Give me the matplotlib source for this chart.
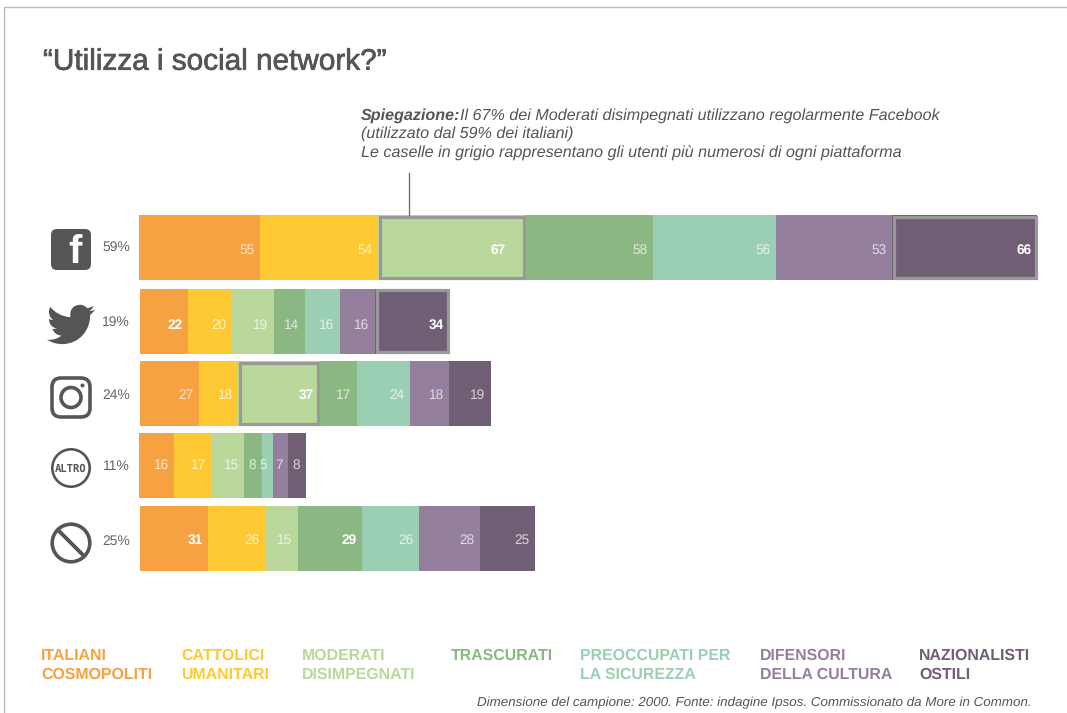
import matplotlib
matplotlib.use("Agg")
import matplotlib.pyplot as plt
import matplotlib.patheffects as pe
from matplotlib.path import Path
from matplotlib.patches import PathPatch, FancyBboxPatch, Circle

plt.rcParams['font.family'] = ['Liberation Sans', 'DejaVu Sans']
plt.rcParams['text.hinting'] = 'no_hinting'
plt.rcParams['text.hinting_factor'] = 8

segments = ["ITALIANI\nCOSMOPOLITI", "CATTOLICI\nUMANITARI", "MODERATI\nDISIMPEGNATI", "TRASCURATI",
            "PREOCCUPATI PER\nLA SICUREZZA", "DIFENSORI\nDELLA CULTURA", "NAZIONALISTI\nOSTILI"]
colors = ["#F7A242", "#FFC933", "#BBD89C", "#8BB882", "#9BCFB3", "#94809E", "#705F74"]
legend_x = [41, 181, 302, 451, 580, 760, 919]

platforms = ["Facebook", "Twitter", "Instagram", "Altro", "Nessuno"]
totals = ["59%", "19%", "24%", "11%", "25%"]
facebook = [55, 54, 67, 58, 56, 53, 66]
twitter = [22, 20, 19, 14, 16, 16, 34]
instagram = [27, 18, 37, 17, 24, 18, 19]
altro = [16, 17, 15, 8, 5, 7, 8]
nessuno = [31, 26, 15, 29, 26, 28, 25]
rows = [facebook, twitter, instagram, altro, nessuno]
bold_cells = {(0, 2), (0, 6), (1, 0), (1, 6), (2, 2), (4, 0), (4, 3)}
boxed_cells = {(0, 2), (0, 6), (1, 6), (2, 2)}

W, H = 1067, 713
fig = plt.figure(figsize=(W / 100, H / 100), dpi=100, facecolor="white")

ov = fig.add_axes([0, 0, 1, 1], zorder=3)
ov.set_xlim(0, W)
ov.set_ylim(H, 0)
ov.axis("off")
ov.patch.set_alpha(0)

# chart axes: x in values (1 unit = 2.196 px), y in pixel rows
PX = 2.196
ax = fig.add_axes([0, 0, 1, 1], zorder=2)
ax.set_xlim(-139 / PX, (W - 139) / PX)
ax.set_ylim(H, 0)
ax.axis("off")
ax.patch.set_alpha(0)

row_y = [247.5, 321, 393.5, 465.5, 538]
row_dx = [0, 1, 0.5, 0, 1]
label_y = [250, 325, 395.5, 465.5, 540.5]
pct_y = [247.5, 322, 395, 466, 541]
bar_h = 65
for i, row in enumerate(rows):
    left = row_dx[i] / PX
    for j, v in enumerate(row):
        ax.barh(row_y[i], v, left=left, height=bar_h, color=colors[j], edgecolor="none", zorder=2)
        if (i, j) in boxed_cells:
            ix, iy = 1.6 / PX, 1.6
            ax.barh(row_y[i], v - 2 * ix, left=left + ix, height=bar_h - 2 * iy, facecolor="none",
                    edgecolor="#999999", linewidth=2.3, zorder=3)
        bold = (i, j) in bold_cells
        pad = 20 if (i, j) == (0, 2) else 5.5
        ax.text(left + v - pad / PX, label_y[i], str(v), ha="right", va="center", fontsize=9.8,
                color="white", alpha=1 if bold else 0.72, fontweight="bold" if bold else "normal", zorder=4)
        left += v
    ov.text(130, pct_y[i], totals[i], ha="right", va="center", fontsize=10, color="#666666")

ov.plot([4, 4, W], [H, 7, 7], color="#BBBBBB", lw=1.0, solid_capstyle="butt")

ov.text(43, 62, "\u201cUtilizza i social network?\u201d", fontsize=21.4, color="#555555", va="center", ha="left",
        path_effects=[pe.withStroke(linewidth=0.5, foreground="#555555")])

note_y = [115.5, 134, 153]
NOTE = 11.6
ov.text(361, note_y[0], "Spiegazione:", fontsize=NOTE, color="#555555", style="italic", fontweight="bold", va="center")
ov.text(460, note_y[0], "Il 67% dei Moderati disimpegnati utilizzano regolarmente Facebook",
        fontsize=NOTE, color="#555555", style="italic", va="center")
ov.text(361, note_y[1], "(utilizzato dal 59% dei italiani)", fontsize=NOTE, color="#555555", style="italic", va="center")
ov.text(361, note_y[2], "Le caselle in grigio rappresentano gli utenti più numerosi di ogni piattaforma",
        fontsize=NOTE, color="#555555", style="italic", va="center")
ov.plot([409, 409], [173, 215], color="#666666", lw=0.9)

for name, c, x in zip(segments, colors, legend_x):
    for k, line in enumerate(name.split("\n")):
        ov.text(x, 655.5 + 19 * k, line, fontsize=11.4, fontweight="bold", color=c, va="center", ha="left")

ov.text(1032, 702.5, "Dimensione del campione: 2000. Fonte: indagine Ipsos. Commissionato da More in Common.",
        fontsize=9.6, style="italic", color="#555555", ha="right", va="center")

ic = "#555555"
ov.add_patch(FancyBboxPatch((51, 229), 40, 41, boxstyle="round,pad=0,rounding_size=6", lw=0, fc=ic))
ov.text(75.5, 253, "f", fontsize=29, fontweight="bold", color="white", ha="center", va="center")

bird = [
    (Path.MOVETO, (23.95, 4.57)), (Path.CURVE3, (22.6, 5.2)), (Path.CURVE3, (21.13, 5.35)),
    (Path.CURVE3, (22.7, 4.4)), (Path.CURVE3, (23.29, 2.62)), (Path.CURVE3, (21.8, 3.5)), (Path.CURVE3, (20.16, 3.81)),
    (Path.CURVE3, (17.5, 1.0)), (Path.CURVE3, (14.0, 2.7)), (Path.CURVE3, (11.0, 4.4)), (Path.CURVE3, (11.78, 8.29)),
    (Path.CURVE4, (7.69, 8.095)), (Path.CURVE4, (4.067, 6.13)), (Path.CURVE4, (1.64, 3.162)),
    (Path.CURVE3, (0.97, 4.3)), (Path.CURVE3, (0.974, 5.637)),
    (Path.CURVE4, (0.974, 7.35)), (Path.CURVE4, (1.84, 8.85)), (Path.CURVE4, (3.162, 9.733)),
    (Path.CURVE3, (1.9, 9.7)), (Path.CURVE3, (0.934, 9.117)), (Path.LINETO, (0.934, 9.177)),
    (Path.CURVE3, (1.1, 13.2)), (Path.CURVE3, (4.88, 14.0)), (Path.CURVE3, (3.8, 14.3)), (Path.CURVE3, (2.668, 14.09)),
    (Path.CURVE3, (3.9, 17.4)), (Path.CURVE3, (7.272, 17.5)), (Path.CURVE3, (4.6, 19.6)), (Path.CURVE3, (1.17, 19.6)),
    (Path.CURVE3, (0.6, 19.6)), (Path.CURVE3, (0, 19.54)), (Path.CURVE3, (3.4, 21.75)), (Path.CURVE3, (7.557, 21.75)),
    (Path.CURVE4, (16.61, 21.75)), (Path.CURVE4, (21.555, 14.25)), (Path.CURVE4, (21.555, 7.765)),
    (Path.CURVE3, (21.555, 7.45)), (Path.CURVE3, (21.54, 7.135)), (Path.CURVE3, (23.0, 6.1)), (Path.CURVE3, (24, 4.59)),
    (Path.CLOSEPOLY, (23.95, 4.57)),
]
codes = [c for c, _ in bird]
verts = [(47 + 2 * x, 304 + 2 * (y - 1.7)) for _, (x, y) in bird]
ov.add_patch(PathPatch(Path(verts, codes), fc=ic, lw=0))

ov.add_patch(FancyBboxPatch((52, 378), 38, 39, boxstyle="round,pad=0,rounding_size=9", fc="none", ec=ic, lw=2.6))
ov.add_patch(Circle((71, 397.5), 10, fc="none", ec=ic, lw=2.6))
ov.add_patch(Circle((82.5, 385.5), 2, fc=ic, lw=0))

ov.add_patch(Circle((71, 468), 18.7, fc="none", ec=ic, lw=1.9))
ov.text(71, 468.5, "ALTRO", fontsize=7.6, fontweight="bold", family="DejaVu Sans Mono", color=ic, ha="center", va="center")

ov.add_patch(Circle((71, 543), 18.8, fc="none", ec=ic, lw=2.6))
ov.plot([58, 84], [530, 556], color=ic, lw=2.8, solid_capstyle="butt")

fig.savefig("out.png", dpi=100, facecolor="white")
